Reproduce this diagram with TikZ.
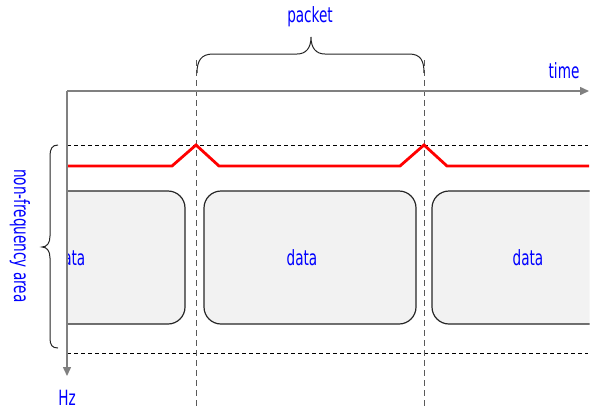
\documentclass[tikz,border=0pt]{standalone}
\usepackage{fontspec}
\newfontfamily\lblfont[FakeStretch=0.72]{DejaVu Sans Condensed}
\usetikzlibrary{arrows.meta}
\begin{document}
\begin{tikzpicture}[x=1pt,y=-1pt,
  lbl/.style={font=\lblfont\fontsize{21}{24}\selectfont, text=blue, inner sep=0pt},
  axis/.style={draw=black!50, line width=1.5pt, -{Triangle[length=9pt,width=8pt]}},
  databox/.style={draw=black!85, fill=black!5, line width=1.2pt, rounded corners=17pt,
    minimum width=212pt, minimum height=133pt, inner sep=0pt},
  guide/.style={draw=black!65, dash pattern=on 6pt off 4pt, line width=1pt},
  bound/.style={draw=black, dash pattern=on 4pt off 3pt, line width=1pt},
  signal/.style={draw=red, line width=2.8pt, line join=miter},
  bracestyle/.style={draw=black!85, line width=1pt}]
\useasboundingbox (0,0) rectangle (593,410);

% data boxes (clipped to the plot area)
\begin{scope}
  \clip (67.5,0) rectangle (589.5,410);
  \node[databox] (box1) at (79,257.5) {};
  \node[databox] (box3) at (538,257.5) {};
  \node[lbl] (d1) at (70,258) {data};
\end{scope}
\node[databox] (box2) at (310,257.5) {};
\node[lbl] (d2) at (302,258) {data};
\node[lbl] (d3) at (528,258) {data};

% frequency bounds
\coordinate (b1l) at (67,145); \coordinate (b1r) at (588,145);
\coordinate (b2l) at (67,353); \coordinate (b2r) at (588,353);
\draw[bound] (b1l) -- (b1r);
\draw[bound] (b2l) -- (b2r);

% packet guides
\coordinate (g1t) at (196,60); \coordinate (g1b) at (196,406);
\coordinate (g2t) at (424,60); \coordinate (g2b) at (424,406);
\draw[guide] (g1t) -- (g1b);
\draw[guide] (g2t) -- (g2b);

% signal
\coordinate (s0) at (67,166);
\coordinate (p1) at (196,145);
\coordinate (p2) at (424,145);
\coordinate (s9) at (589,166);
\draw[signal] (s0) -- (172,166) -- (p1) -- (219,166) -- (400,166) -- (p2) -- (447,166) -- (s9);

% axes
\coordinate (O) at (67,91);
\coordinate (T) at (589,91);
\coordinate (H) at (67,376);
\draw[axis] (O) -- (T);
\draw[axis] (O) -- (H);

% braces
\draw[bracestyle] (197,73) .. controls (197,61) and (201,54) .. (213,54) -- (297,54)
  .. controls (306,54) and (311,48) .. (311,37)
  .. controls (311,48) and (316,54) .. (325,54) -- (409,54)
  .. controls (421,54) and (424,61) .. (424,73);
\draw[bracestyle] (58,145) .. controls (52,145) and (50,149) .. (50,156) -- (50,236)
  .. controls (50,243) and (47,247) .. (42,247)
  .. controls (47,247) and (50,251) .. (50,258) -- (50,338)
  .. controls (50,345) and (52,348) .. (58,348);

% labels
\node[lbl] (packet) at (310,17) {packet};
\node[lbl] (time) at (564,71) {time};
\node[lbl] (hz) at (67,398) {Hz};
\node[lbl, rotate=-90] (nfa) at (20,236) {non-frequency area};
\end{tikzpicture}
\end{document}
